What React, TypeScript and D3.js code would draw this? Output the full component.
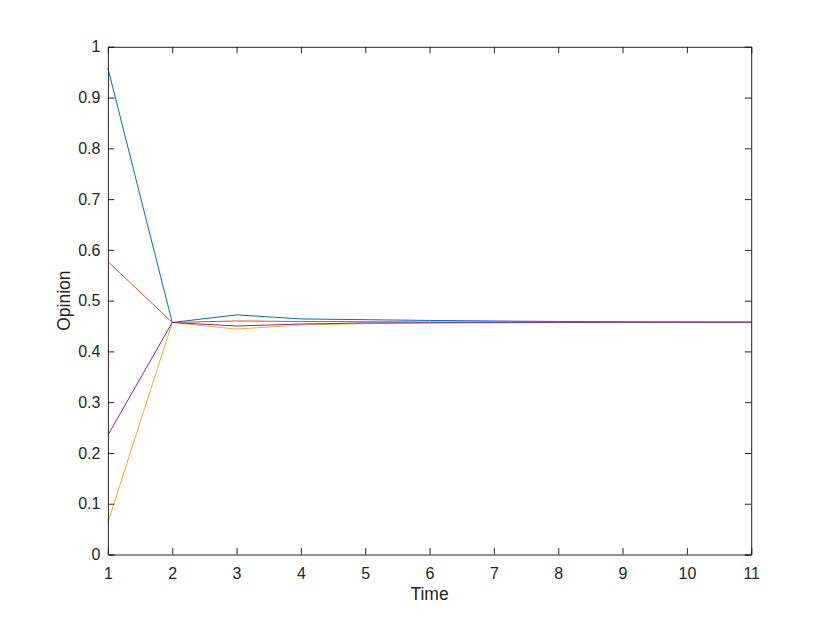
import { useRef, useEffect } from 'react'
import * as d3 from 'd3'

const time = [1, 2, 3, 4, 5, 6, 7, 8, 9, 10, 11]
const agentA = [0.958, 0.457, 0.472, 0.464, 0.4625, 0.461, 0.460, 0.459, 0.4585, 0.458, 0.4578]
const agentB = [0.577, 0.457, 0.460, 0.459, 0.4585, 0.458, 0.4578, 0.4576, 0.4575, 0.4575, 0.4574]
const agentC = [0.235, 0.457, 0.450, 0.454, 0.456, 0.4565, 0.457, 0.4572, 0.4573, 0.4573, 0.4573]
const agentD = [0.063, 0.457, 0.444, 0.452, 0.455, 0.456, 0.4565, 0.457, 0.4572, 0.4572, 0.4573]
const seriesColors = ['#0072BD', '#D95319', '#EDB120', '#7E2F8E']
const yTicks = [0, 0.1, 0.2, 0.3, 0.4, 0.5, 0.6, 0.7, 0.8, 0.9, 1]

const App = () => {
  const svgRef = useRef<SVGSVGElement>(null)

  useEffect(() => {
    const W = 830, H = 623
    const margin = { top: 46.8, right: 78.8, bottom: 68.5, left: 107.9 }
    const width = W - margin.left - margin.right
    const height = H - margin.top - margin.bottom
    const axisColor = '#262626'
    const font = '"Liberation Sans", Arial, sans-serif'

    d3.select(svgRef.current).selectAll('*').remove()

    const x = d3.scaleLinear().domain([1, 11]).range([0, width])
    const y = d3.scaleLinear().domain([0, 1]).range([height, 0])

    const svg = d3.select(svgRef.current)
      .attr('width', W)
      .attr('height', H)
      .append('g')
      .attr('transform', `translate(${margin.left},${margin.top})`)

    svg.append('rect')
      .attr('width', width).attr('height', height)
      .attr('fill', '#fff')

    // lines, drawn in the order: blue, orange, yellow, purple
    const data = [agentA, agentB, agentD, agentC]
    const line = d3.line<number>().x((_, i) => x(time[i])).y(d => y(d))
    data.forEach((s, k) => {
      svg.append('path')
        .datum(s)
        .attr('d', line)
        .attr('fill', 'none')
        .attr('stroke', seriesColors[k])
        .attr('stroke-width', 1)
    })

    const tickLen = 6.4
    const xAxis = svg.append('g').attr('transform', `translate(0,${height})`)
      .call(d3.axisBottom(x).tickValues(time).tickSize(-tickLen).tickPadding(13))
    const yAxis = svg.append('g')
      .call(d3.axisLeft(y).tickValues(yTicks).tickSize(-tickLen).tickPadding(7.5).tickFormat(d3.format('~g')))
    const xTop = svg.append('g').call(d3.axisTop(x).tickValues(time).tickSize(-tickLen).tickFormat(() => ''))
    const yRight = svg.append('g').attr('transform', `translate(${width},0)`)
      .call(d3.axisRight(y).tickValues(yTicks).tickSize(-tickLen).tickFormat(() => ''))

    ;[xAxis, yAxis, xTop, yRight].forEach(g => {
      g.select('.domain').attr('stroke', axisColor).attr('stroke-width', 1)
      g.selectAll('.tick line').attr('stroke', axisColor).attr('stroke-width', 1)
      g.selectAll('.tick text')
        .attr('fill', axisColor)
        .style('font-family', font)
        .style('font-size', '16px')
    })

    svg.append('text')
      .attr('x', width / 2)
      .attr('y', height + 46)
      .attr('text-anchor', 'middle')
      .attr('fill', axisColor)
      .style('font-family', font)
      .style('font-size', '17.5px')
      .text('Time')

    svg.append('text')
      .attr('transform', `translate(-38.4,${height / 2}) rotate(-90)`)
      .attr('text-anchor', 'middle')
      .attr('fill', axisColor)
      .style('font-family', font)
      .style('font-size', '17.5px')
      .text('Opinion')
  }, [])

  return <svg ref={svgRef} style={{ display: 'block', position: 'absolute', left: 0, top: 0 }}></svg>
}

export default App
